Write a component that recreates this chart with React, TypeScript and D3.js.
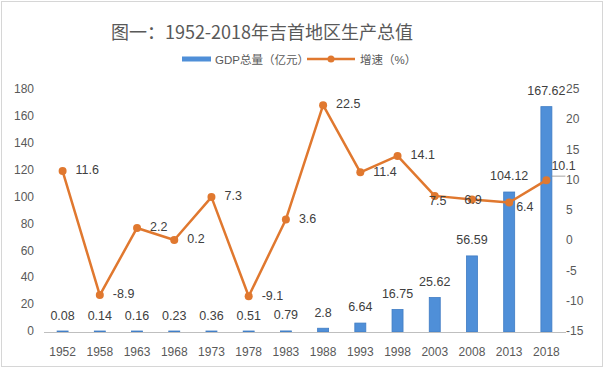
import React from 'react'
import * as d3 from 'd3'

const years = ['1952', '1958', '1963', '1968', '1973', '1978', '1983', '1988', '1993', '1998', '2003', '2008', '2013', '2018']
const gdp = [0.08, 0.14, 0.16, 0.23, 0.36, 0.51, 0.79, 2.8, 6.64, 16.75, 25.62, 56.59, 104.12, 167.62]
const growth = [11.6, -8.9, 2.2, 0.2, 7.3, -9.1, 3.6, 22.5, 11.4, 14.1, 7.5, 6.9, 6.4, 10.1]
const leftTicks = [0, 20, 40, 60, 80, 100, 120, 140, 160, 180]
const rightTicks = [-15, -10, -5, 0, 5, 10, 15, 20, 25]

// label placement tweaks for the crowded growth labels (dx, dy, anchor)
const growthLabelPos: Record<number, [number, number, string]> = {
  10: [3, 6, 'middle'],
  11: [1, 1, 'middle'],
  12: [7, 5, 'start'],
  13: [5, -13, 'start'],
}

const W = 605
const H = 370
const FONT = '"Liberation Sans", Arial, "Noto Sans CJK SC", sans-serif'
const BLUE = '#4f8fd8'
const ORANGE = '#e0782f'
const TEXT = '#404040'
const AXIS_TEXT = '#595959'

export default function App() {
  const x = d3.scaleBand<string>().domain(years).range([44, 565]).paddingInner(0).paddingOuter(0)
  const yL = d3.scaleLinear().domain([0, 180]).range([332, 90])
  const yR = d3.scaleLinear().domain([-15, 25]).range([332, 90])
  const cx = (i: number) => (x(years[i]) ?? 0) + x.bandwidth() / 2
  const barW = 11

  const line = d3
    .line<number>()
    .x((_, i) => cx(i))
    .y(d => yR(d))

  return (
    <svg
      width={W}
      height={H}
      viewBox={`0 0 ${W} ${H}`}
      style={{ position: 'absolute', left: 0, top: 0, background: '#fff' }}
      fontFamily={FONT}
    >
      <rect x={0} y={0} width={W} height={H} fill="#fff" />
      <rect x={1.5} y={1.5} width={601} height={365} fill="none" stroke="#d6d6d6" />

      <text x={262} y={39} textAnchor="middle" fontSize={18} fill={AXIS_TEXT} fontFamily={'"Noto Sans CJK SC", sans-serif'}>
        图一：1952-2018年吉首地区生产总值
      </text>

      {/* legend */}
      <rect x={182} y={56.5} width={29} height={5} fill={BLUE} />
      <text x={215} y={63.5} fontSize={11.5} fill={AXIS_TEXT}>GDP总量（亿元）</text>
      <line x1={307} x2={355} y1={59} y2={59} stroke={ORANGE} strokeWidth={2.5} />
      <circle cx={331} cy={59} r={3.5} fill={ORANGE} />
      <text x={360} y={63.5} fontSize={11.5} fill={AXIS_TEXT}>增速（%）</text>

      {/* left axis */}
      {leftTicks.map(t => (
        <text key={`l${t}`} x={34} y={yL(t)} textAnchor="end" dominantBaseline="middle" fontSize={12} fill={AXIS_TEXT}>
          {t}
        </text>
      ))}
      {/* right axis */}
      {rightTicks.map(t => (
        <text key={`r${t}`} x={566} y={yR(t)} dominantBaseline="middle" fontSize={12} fill={AXIS_TEXT}>
          {t}
        </text>
      ))}

      {/* bars */}
      {gdp.map((v, i) => (
        <g key={`b${i}`}>
          <rect
            x={cx(i) - barW / 2}
            y={Math.min(yL(v), 331)}
            width={barW}
            height={Math.max(332 - yL(v), 1)}
            fill={BLUE}
            stroke="#3f7cc4"
            strokeWidth={0.8}
          />
          <text x={cx(i)} y={yL(v) - 15} textAnchor="middle" dominantBaseline="middle" fontSize={12.5} fill={TEXT}>
            {v}
          </text>
        </g>
      ))}

      <line x1={44} x2={566} y1={332.5} y2={332.5} stroke="#bfbfbf" strokeWidth={1} />

      {/* category labels */}
      {years.map((yr, i) => (
        <text key={yr} x={cx(i)} y={353} textAnchor="middle" dominantBaseline="middle" fontSize={12} fill={AXIS_TEXT}>
          {yr}
        </text>
      ))}

      {/* growth line */}
      <path d={line(growth) ?? ''} fill="none" stroke={ORANGE} strokeWidth={2.5} strokeLinejoin="round" />
      {growth.map((v, i) => (
        <circle key={`p${i}`} cx={cx(i)} cy={yR(v)} r={4} fill={ORANGE} />
      ))}
      {growth.map((v, i) => {
        const [dx, dy, anchor] = growthLabelPos[i] ?? [13, 0, 'start']
        return (
          <text
            key={`g${i}`}
            x={cx(i) + dx}
            y={yR(v) + dy}
            textAnchor={anchor}
            dominantBaseline="middle"
            fontSize={12.5}
            fill={TEXT}
          >
            {v}
          </text>
        )
      })}
      <line x1={cx(13) + 5} x2={cx(13) + 19} y1={yR(growth[13]) - 4} y2={yR(growth[13]) - 4} stroke="#8c8c8c" strokeWidth={0.8} />
    </svg>
  )
}
